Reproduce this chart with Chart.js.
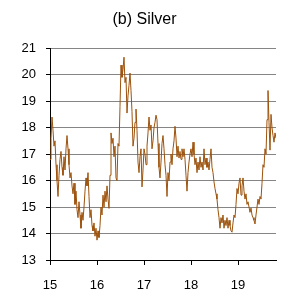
<!DOCTYPE html>
<html>
<head>
<meta charset="utf-8">
<script src="https://cdn.jsdelivr.net/npm/chart.js@4"></script>
<style>
  html, body { margin: 0; padding: 0; background: #fff; }
  #wrap { width: 287px; height: 296px; }
</style>
</head>
<body>
<div id="wrap"><canvas id="silverChart"></canvas></div>
<script>
// Silver price (one reading per ~1/47 of a year, from start of 15)
const startYear = 15;
const stepYear = 1 / 47;
const prices = [
  16.8, 17.6, 18.4, 17.9, 17.3, 17.5, 16.6, 16.0, 15.4, 16.2,
  16.8, 17.1, 16.5, 16.2, 16.9, 16.4, 17.2, 17.7, 17.2, 16.6,
  16.1, 16.3, 15.8, 15.5, 15.9, 15.1, 15.6, 14.9, 14.6, 15.2,
  14.7, 14.2, 14.8, 14.5, 15.0, 15.6, 16.1, 15.8, 16.3, 15.4,
  14.6, 14.9, 14.3, 14.1, 14.4, 13.9, 14.2, 13.75, 14.1, 13.85,
  14.3, 15.0, 14.7, 15.45, 15.0, 15.6, 15.2, 15.8, 15.3, 14.95,
  16.2, 17.8, 17.4, 17.6, 16.9, 17.3, 16.1, 16.0, 17.4, 17.3,
  18.8, 20.36, 19.9, 20.2, 20.66, 19.7, 19.9, 18.55, 19.2, 19.6,
  20.06, 19.4, 18.6, 17.3, 17.6, 18.2, 18.7, 17.9, 16.7, 16.3,
  16.9, 17.2, 15.76, 16.4, 17.2, 17.0, 16.6, 17.3, 17.8, 18.4,
  17.9, 18.1, 17.2, 17.5, 18.0, 18.2, 18.47, 18.3, 17.4, 16.5,
  16.1, 16.7, 17.4, 17.7, 17.2, 16.6, 16.2, 15.4, 16.3, 16.0,
  16.7, 17.0, 16.6, 17.2, 17.5, 18.05, 17.6, 16.9, 17.3, 16.85,
  17.1, 16.8, 17.2, 16.9, 17.2, 16.8, 16.2, 15.6, 16.3, 16.7,
  17.0, 17.2, 16.9, 17.45, 17.0, 16.6, 16.85, 16.3, 16.7, 16.4,
  16.9, 16.5, 16.7, 16.4, 17.2, 16.6, 16.85, 16.5, 16.7, 16.4,
  16.8, 17.2, 16.5, 16.3, 15.95, 15.7, 15.5, 15.3, 14.9, 14.6,
  14.2, 14.6, 14.4, 14.7, 14.2, 14.5, 14.3, 14.6, 14.2, 14.5,
  14.3, 14.1, 14.05, 14.4, 14.7, 14.6, 15.1, 15.7, 15.5, 15.9,
  16.1, 15.45, 15.8, 16.1, 15.6, 15.3, 15.5, 15.1, 15.2, 15.0,
  14.8, 14.96, 14.7, 14.6, 14.5, 14.36, 14.7, 15.0, 15.3, 15.1,
  15.4, 15.3, 15.9, 16.6, 16.5, 17.2, 17.0, 18.3, 19.4, 18.2,
  17.15, 18.5, 18.0, 17.7, 17.45, 17.8, 17.6
];
const yearTicks = [15, 16, 17, 18, 19];
const priceMin = 13;
const priceMax = 21;

const points = prices.map(function(p, i) {
    return { x: startYear + i * stepYear, y: p };
});

// nudge the title a little right, as in the original
const titleShift = {
    id: 'titleShift',
    afterLayout: function(chart) {
        if (chart.titleBlock) chart.titleBlock.left += 13;
    }
};

const ctx = document.getElementById('silverChart').getContext('2d');
const chart = new Chart(ctx, {
    type: 'line',
    data: {
        datasets: [{
            data: points,
            borderColor: '#9c520c',
            borderWidth: 1,
            pointRadius: 0,
            tension: 0,
            fill: false
        }]
    },
    plugins: [titleShift],
    options: {
        responsive: true,
        maintainAspectRatio: false,
        animation: false,
        layout: { padding: { left: 0, right: 11, top: 0, bottom: 0 } },
        plugins: {
            legend: { display: false },
            tooltip: { enabled: false },
            title: {
                display: true,
                text: '(b) Silver',
                color: '#000',
                font: { family: 'Liberation Sans', size: 16, weight: 'normal' },
                padding: { top: 10, bottom: 19 }
            }
        },
        scales: {
            x: {
                type: 'linear',
                min: startYear,
                max: startYear + (prices.length - 1) * stepYear,
                afterBuildTicks: function(scale) {
                    scale.ticks = yearTicks.map(function(v) { return { value: v }; });
                },
                afterFit: function(scale) { scale.height = 36; },
                ticks: {
                    color: '#000',
                    font: { family: 'Liberation Sans', size: 13 },
                    padding: 13,
                    maxRotation: 0,
                    autoSkip: false
                },
                grid: {
                    drawOnChartArea: false,
                    drawTicks: true,
                    tickLength: 5,
                    tickColor: '#000'
                },
                border: { color: '#000', width: 1 }
            },
            y: {
                min: priceMin,
                max: priceMax,
                afterFit: function(scale) { scale.width = 50; },
                ticks: {
                    stepSize: 1,
                    color: '#000',
                    font: { family: 'Liberation Sans', size: 13 },
                    padding: 10
                },
                grid: {
                    color: '#858585',
                    lineWidth: 1,
                    tickLength: 4,
                    tickColor: '#000'
                },
                border: { color: '#000', width: 1 }
            }
        }
    }
});
</script>
</body>
</html>
